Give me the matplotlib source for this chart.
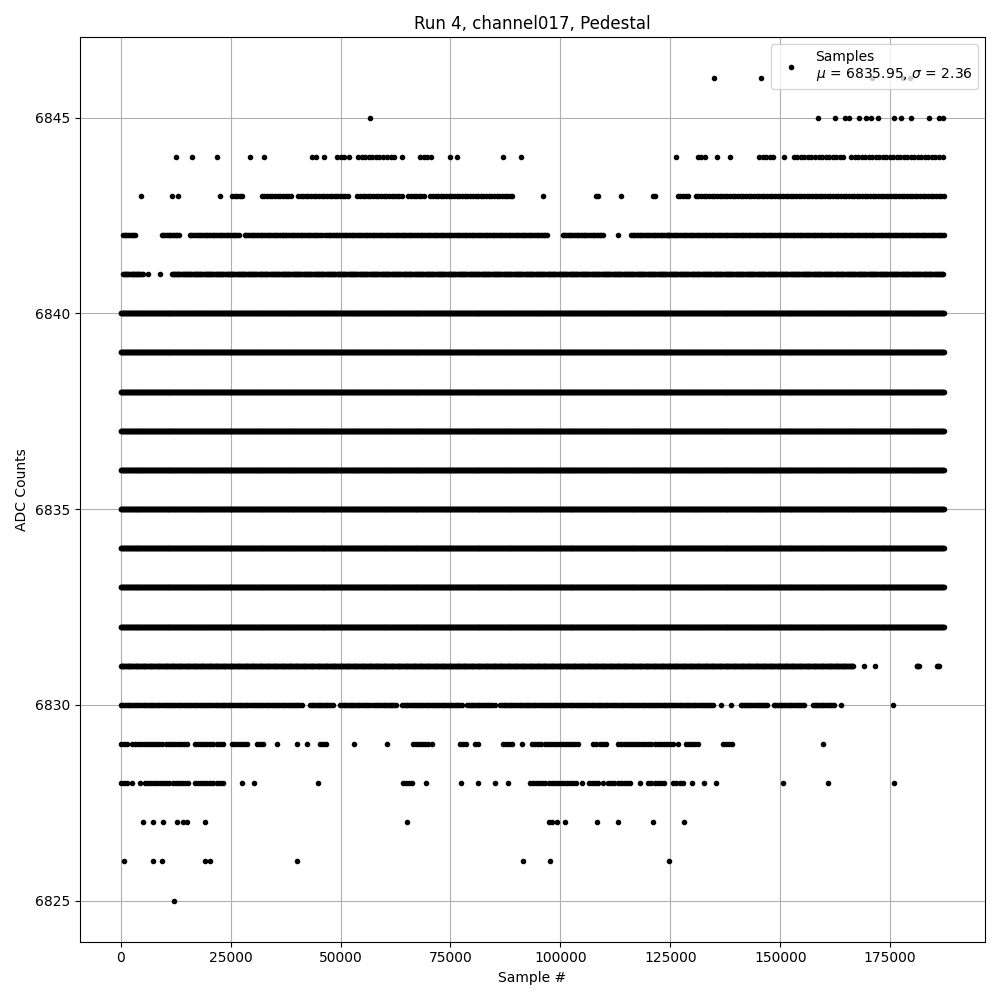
import numpy as np
import matplotlib
matplotlib.use("Agg")
import matplotlib.pyplot as plt

# ADC levels seen in the run
levels = [6846, 6845, 6844, 6843, 6842, 6841, 6840, 6839, 6838, 6837,
          6836, 6835, 6834, 6833, 6832, 6831, 6830, 6829, 6828, 6827,
          6826, 6825]

# occupied sample ranges per level, in thousands of samples (start, end);
# a single sample shows up as (k, k)
ranges_6846 = [(134.9, 134.9), (145.6, 145.6), (170.9, 170.9), (177.9, 177.9), (179.5, 179.5)]
ranges_6845 = [(56.7, 56.7), (158.5, 158.5), (162.4, 162.4), (164.7, 164.7), (165.6, 165.6),
               (167.9, 167.9), (169.5, 169.5), (170.6, 170.6), (172.2, 172.2), (175.9, 175.9),
               (177.5, 177.5), (179.7, 179.7), (183.8, 183.8), (186.1, 186.1), (187.0, 187.0)]
ranges_6844 = [(12.5, 12.5), (16.2, 16.2), (21.9, 21.9), (29.4, 29.4), (32.6, 32.6),
               (43.5, 43.5), (44.4, 44.4), (46.2, 46.2), (49.2, 51.5), (52.0, 52.0),
               (54.0, 59.7), (60.6, 62.9), (64.0, 64.0), (68.1, 71.1), (74.9, 74.9),
               (76.5, 76.5), (87.0, 87.0), (91.1, 91.1), (126.2, 126.2), (131.2, 133.0),
               (135.7, 135.7), (138.5, 138.5), (145.2, 148.6), (150.9, 150.9),
               (153.1, 163.8), (164.2, 164.2), (166.1, 187.2)]
ranges_6843 = [(4.6, 4.6), (11.6, 11.6), (13.0, 13.0), (22.6, 22.6), (25.3, 28.2),
               (32.1, 39.0), (40.3, 51.7), (53.8, 64.2), (65.4, 69.3), (70.4, 78.8),
               (79.5, 89.3), (96.1, 96.1), (108.0, 109.0), (113.7, 113.7), (121.0, 122.0),
               (126.7, 129.6), (130.8, 187.2)]
ranges_6842 = [(0.5, 3.6), (9.3, 13.4), (15.7, 27.1), (28.2, 36.7), (36.9, 46.0),
               (46.5, 66.5), (67.0, 97.3), (100.5, 109.8), (113.2, 113.2), (116.0, 124.4),
               (124.4, 187.2)]
ranges_6841 = [(0.5, 5.0), (6.2, 6.2), (8.9, 8.9), (11.6, 187.2)]
ranges_full = [(0.0, 187.2)]
ranges_6831 = [(0.0, 166.7), (169.0, 169.0), (171.5, 171.5), (181.0, 181.6), (185.6, 186.0)]
ranges_6830 = [(0.0, 41.5), (43.0, 48.3), (49.9, 56.7), (57.4, 62.9), (64.0, 77.9),
               (78.8, 84.5), (85.2, 85.2), (86.3, 134.9), (136.5, 136.5), (138.7, 138.7),
               (141.0, 147.0), (148.5, 155.4), (157.4, 162.2), (163.8, 163.8), (175.6, 175.6)]
ranges_6829 = [(0.0, 1.4), (2.5, 15.3), (16.9, 23.2), (25.3, 28.9), (31.0, 32.5),
               (35.5, 35.5), (40.1, 40.1), (42.4, 42.4), (45.3, 46.9), (53.1, 53.1),
               (60.6, 60.6), (66.5, 71.1), (77.2, 78.8), (80.6, 81.8), (87.0, 89.3),
               (91.3, 91.3), (93.6, 104.6), (107.5, 110.9), (113.0, 125.7), (126.7, 126.7),
               (128.5, 131.4), (136.9, 139.2), (159.7, 159.7)]
ranges_6828 = [(0.0, 1.4), (2.5, 2.5), (4.3, 4.3), (5.5, 15.3), (16.9, 23.2), (27.6, 27.6),
               (30.3, 30.3), (44.9, 44.9), (64.2, 66.9), (69.4, 69.4), (77.4, 77.4),
               (81.3, 81.3), (85.2, 85.2), (88.1, 88.1), (93.1, 103.9), (105.0, 105.0),
               (106.4, 109.1), (109.6, 109.6), (110.9, 115.9), (118.2, 118.2),
               (120.0, 123.9), (125.7, 127.8), (130.0, 130.0), (132.6, 132.6),
               (135.4, 135.4), (150.6, 150.6), (160.8, 160.8), (175.9, 175.9)]
ranges_6827 = [(5.0, 5.0), (7.3, 7.3), (9.6, 9.6), (12.8, 12.8), (14.1, 14.1), (15.0, 15.0),
               (19.1, 19.1), (65.2, 65.2), (97.3, 97.3), (98.2, 98.2), (99.2, 99.2),
               (101.1, 101.1), (108.4, 108.4), (113.2, 113.2), (121.0, 121.0),
               (128.0, 128.0)]
ranges_6826 = [(0.7, 0.7), (7.3, 7.3), (9.3, 9.3), (19.1, 19.1), (20.3, 20.3), (40.1, 40.1),
               (91.6, 91.6), (97.7, 97.7), (124.8, 124.8)]
ranges_6825 = [(12.1, 12.1)]

level_ranges = [ranges_6846, ranges_6845, ranges_6844, ranges_6843, ranges_6842,
                ranges_6841, ranges_full, ranges_full, ranges_full, ranges_full,
                ranges_full, ranges_full, ranges_full, ranges_full, ranges_full,
                ranges_6831, ranges_6830, ranges_6829, ranges_6828, ranges_6827,
                ranges_6826, ranges_6825]

# how many samples between drawn points inside a range
level_step = [1, 1, 800, 600, 400, 250, 150, 150, 150, 150,
              150, 150, 150, 150, 150, 200, 400, 700, 700, 1, 1, 1]

mean_adc = 6835.95
std_adc = 2.36


def buildSamples():
    xs = []
    ys = []
    for level, ranges, step in zip(levels, level_ranges, level_step):
        for start, end in ranges:
            x = np.arange(start * 1000, end * 1000 + 1, step) if end > start else np.array([start * 1000])
            xs.append(x)
            ys.append(np.full(len(x), level))
    return np.concatenate(xs), np.concatenate(ys)


x, y = buildSamples()

fig, ax = plt.subplots(figsize=(10, 10), dpi=100)
ax.plot(x, y, '.', color='black',
        label="Samples\n$\\mu$ = %.2f, $\\sigma$ = %.2f" % (mean_adc, std_adc))
ax.set_title("Run 4, channel017, Pedestal")
ax.set_xlabel("Sample #")
ax.set_ylabel("ADC Counts")
ax.grid(True)
ax.legend(loc='upper right')
fig.tight_layout()
fig.savefig("out.png")
